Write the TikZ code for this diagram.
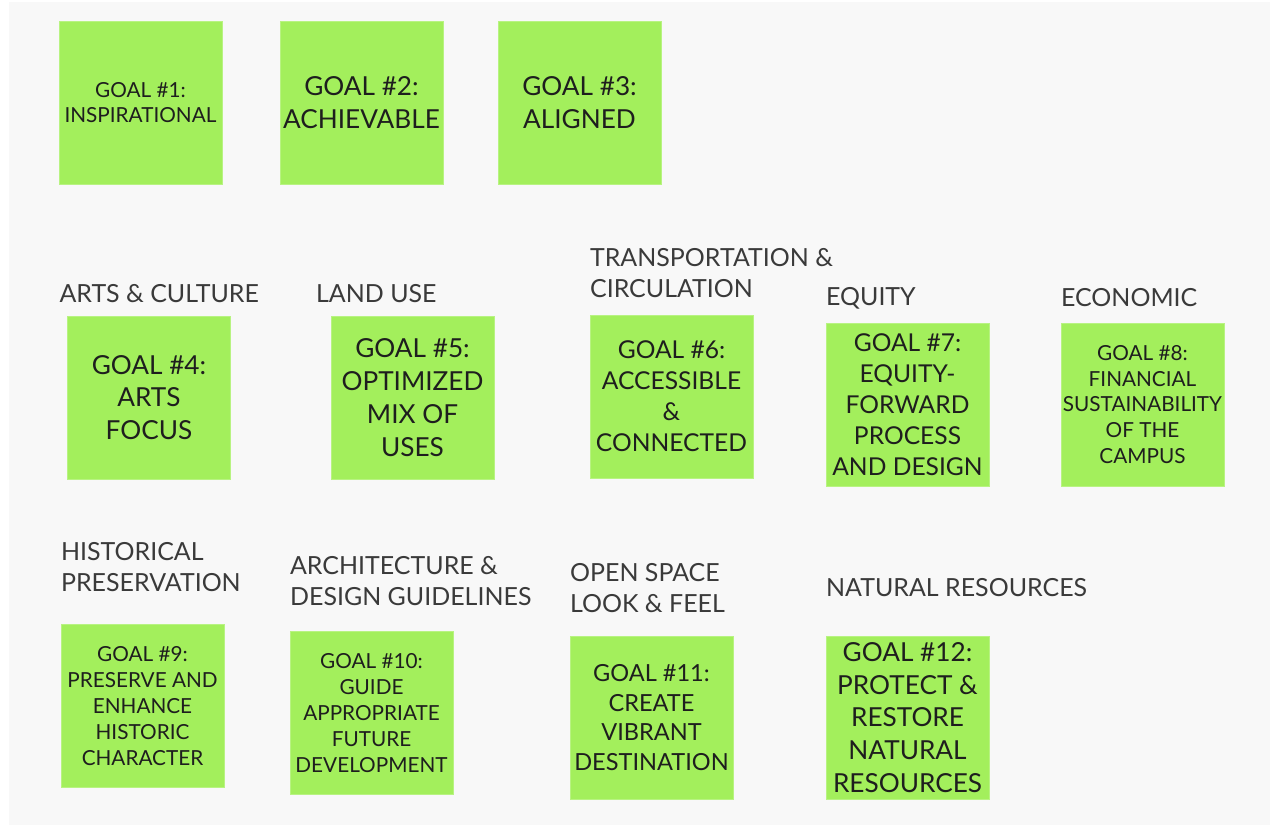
\documentclass[tikz,border=0pt]{standalone}
\usepackage{fontspec}
\setmainfont{Lato}
\usepackage{tikz}
\usetikzlibrary{positioning}

\definecolor{board}{HTML}{F8F8F8}
\definecolor{sticky}{HTML}{A3EF5C}
\definecolor{stickyedge}{HTML}{B8F382}
\definecolor{notetext}{HTML}{1E1E1E}
\definecolor{headtext}{HTML}{3A3A3A}

\tikzset{
  note/.style={fill=sticky, draw=stickyedge, line width=0.3pt, minimum width=3.26cm,
    minimum height=3.26cm, inner sep=0pt, align=center, text=notetext},
  txtL/.style={font=\fontsize{14.9}{18.7}\selectfont},
  txtM/.style={font=\fontsize{14}{17.6}\selectfont},
  txtS/.style={font=\fontsize{11.8}{14.7}\selectfont},
  head/.style={inner sep=0pt, text depth=0pt, align=left, text=headtext,
    font=\fontsize{14.2}{17.6}\selectfont}
}

\begin{document}
\begin{tikzpicture}
  \useasboundingbox (0,0) rectangle (25.4,-16.56);
  \fill[board] (0.18,-0.04) rectangle (25.4,-16.5);

  % top row
  \node[note, txtS] (g1) at (2.81,-2.05) {GOAL \#1:\\INSPIRATIONAL};
  \node[note, txtL, on grid, right=4.42cm of g1] (g2) {GOAL \#2:\\ACHIEVABLE};
  \node[note, txtL, on grid, right=4.36cm of g2] (g3) {GOAL \#3:\\ALIGNED};

  % middle row
  \node[note, txtL, on grid, below right=5.9cm and 0.17cm of g1] (g4) {GOAL \#4:\\ARTS\\FOCUS};
  \node[note, txtL, on grid, right=5.27cm of g4] (g5) {GOAL \#5:\\OPTIMIZED\\MIX OF\\USES};
  \node[note, txtM, on grid, above right=0.02cm and 5.18cm of g5] (g6) {GOAL \#6:\\ACCESSIBLE\\\&\\CONNECTED};
  \node[note, txtM, on grid, below right=0.16cm and 4.72cm of g6] (g7) {GOAL \#7:\\EQUITY-\\FORWARD\\PROCESS\\AND DESIGN};
  \node[note, txtS, on grid, right=4.70cm of g7] (g8) {GOAL \#8:\\FINANCIAL\\SUSTAINABILITY\\OF THE\\CAMPUS};

  \node[head, above right=0.26cm and -0.16cm of g4.north west] (h4) {ARTS \& CULTURE};
  \node[head, above right=0.26cm and -0.30cm of g5.north west] (h5) {LAND USE};
  \node[head, above right=0.33cm and 0cm of g6.north west] (h6) {TRANSPORTATION \&\\CIRCULATION};
  \node[head, above right=0.34cm and 0cm of g7.north west] (h7) {EQUITY};
  \node[head, above right=0.32cm and 0cm of g8.north west] (h8) {ECONOMIC};

  % bottom row
  \node[note, txtS, on grid, below right=12.07cm and 0.04cm of g1] (g9) {GOAL \#9:\\PRESERVE AND\\ENHANCE\\HISTORIC\\CHARACTER};
  \node[note, txtS, on grid, below right=0.14cm and 4.58cm of g9] (g10) {GOAL \#10:\\GUIDE\\APPROPRIATE\\FUTURE\\DEVELOPMENT};
  \node[note, txtM, font=\fontsize{13.4}{17}\selectfont, on grid, below right=0.09cm and 5.60cm of g10] (g11) {GOAL \#11:\\CREATE\\VIBRANT\\DESTINATION};
  \node[note, txtL, on grid, right=5.12cm of g11] (g12) {GOAL \#12:\\PROTECT \&\\RESTORE\\NATURAL\\RESOURCES};

  \node[head, above right=0.64cm and 0cm of g9.north west] (h9) {HISTORICAL\\PRESERVATION};
  \node[head, above right=0.50cm and 0cm of g10.north west] (h10) {ARCHITECTURE \&\\DESIGN GUIDELINES};
  \node[head, above right=0.46cm and 0cm of g11.north west] (h11) {OPEN SPACE\\LOOK \& FEEL};
  \node[head, above right=0.78cm and 0cm of g12.north west] (h12) {NATURAL RESOURCES};
\end{tikzpicture}
\end{document}
